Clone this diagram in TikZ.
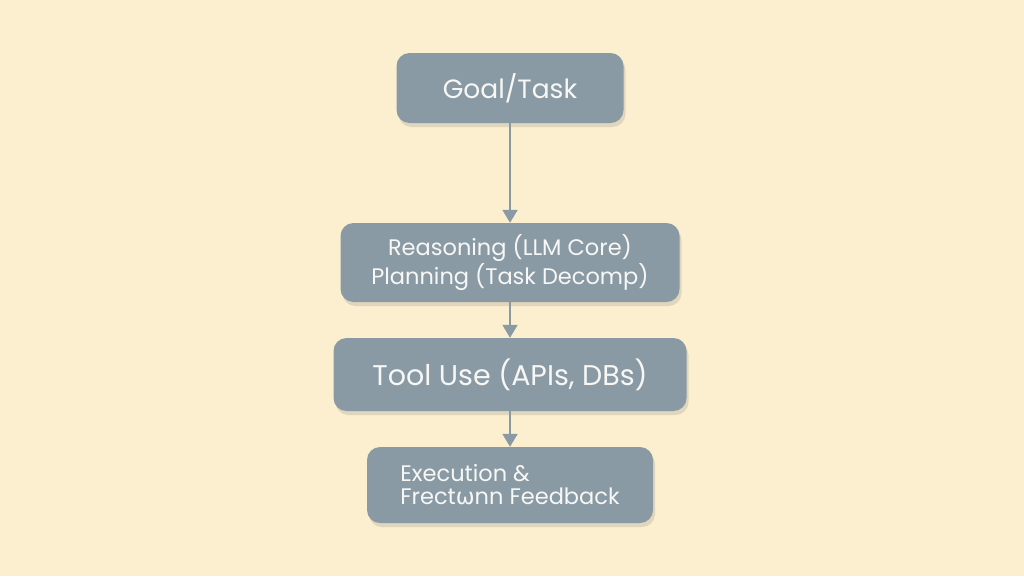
\documentclass[tikz,border=0pt]{standalone}
\usepackage{fontspec}
\setmainfont{Poppins}[Ligatures=NoCommon]
\newfontfamily\gk{DejaVu Sans}
\usetikzlibrary{shadows,arrows.meta}
\definecolor{bg}{HTML}{FCEFD0}
\definecolor{boxc}{HTML}{8A9AA4}
\definecolor{txt}{HTML}{F7F7F5}
\tikzset{
  stepbox/.style={draw=none, fill=boxc, rounded corners=13pt, text=txt, inner sep=0pt,
    drop shadow={shadow xshift=2pt, shadow yshift=-4pt, opacity=0.18, fill=black!60}},
  conn/.style={draw=boxc, line width=2pt, -{Triangle[width=15pt,length=13pt]}}
}
\begin{document}
\begin{tikzpicture}[x=1pt,y=-1pt]
\useasboundingbox (0,0) rectangle (1024,576);
\fill[bg] (0,0) rectangle (1024,576);
\node[stepbox, minimum width=227pt, minimum height=70pt, font=\fontsize{26.5}{30}\selectfont] (goal) at (510,88) {Goal/Task};
\node[stepbox, minimum width=339pt, minimum height=79pt, align=center, font=\fontsize{22.5}{24}\selectfont] (reason) at (510,262.5) {Reasoning (LLM Core)\\Planning (Task Decomp)};
\node[stepbox, minimum width=353pt, minimum height=73pt, font=\fontsize{28.5}{30}\selectfont] (tool) at (510,374.5) {Tool Use (APIs, DBs)};
\node[stepbox, minimum width=286pt, minimum height=76pt, align=left, font=\fontsize{22.5}{23}\selectfont] (exec) at (510,485) {Execution \&\\Frect{\gk ω}nn Feedback};
\draw[conn] (goal.south) -- (reason.north);
\draw[conn] (reason.south) -- (tool.north);
\draw[conn] (tool.south) -- (exec.north);
\end{tikzpicture}
\end{document}
